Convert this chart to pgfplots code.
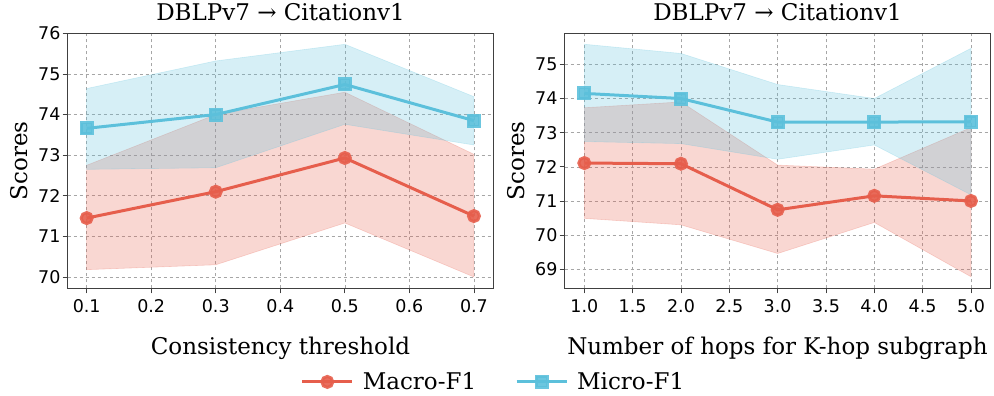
\documentclass[border=0pt]{standalone}
\usepackage{fontspec}
\setmainfont{DejaVu Serif}
\newfontfamily\ticksans{DejaVu Sans}
\usepackage{pgfplots}
\pgfplotsset{compat=1.18}
\definecolor{cred}{RGB}{230,94,76}
\definecolor{cblue}{RGB}{92,192,219}
\newcommand{\ttl}{\fontsize{23}{23}\selectfont DBLPv7 → Citationv1}
\newcommand{\ylab}{\fontsize{23}{23}\selectfont Scores}
\pgfplotsset{myax/.style={
  scale only axis, width=425.6pt, height=255pt,
  grid=major, major grid style={dashed, black!35, line width=0.6pt},
  axis line style={draw=black!75, line width=1pt},
  tick align=outside, major tick length=5pt, tick pos=left,
  tick style={black!75, line width=0.8pt},
  ticklabel style={font=\ticksans\fontsize{17.5}{17.5}\selectfont},
  yticklabel style={inner xsep=2pt},
  xticklabel style={yshift=-3pt},
  /pgf/number format/assume math mode=true,
  title style={at={(axis description cs:0.5,1.06)}, anchor=center},
  ylabel style={at={(axis description cs:-0.113,0.5)}, anchor=center},
  xlabel style={font=\fontsize{23}{23}\selectfont, at={(axis description cs:0.5,-0.234)}, anchor=center},
  linered/.style={cred, line width=3pt, mark=*, mark size=5.5pt, mark options={fill=cred, draw=cred, opacity=0.9}},
  lineblue/.style={cblue, line width=3pt, mark=square*, mark size=5.5pt, mark options={fill=cblue, draw=cblue, opacity=0.9}},
  bandred/.style={fill=cred, fill opacity=0.25, draw=cred, draw opacity=0.25, line width=0.6pt, forget plot},
  bandblue/.style={fill=cblue, fill opacity=0.25, draw=cblue, draw opacity=0.25, line width=0.6pt, forget plot},
}}
\begin{document}
\begin{tikzpicture}
\path (0,0) rectangle (994pt,394pt);
\begin{axis}[myax, at={(67.7pt,106.7pt)}, anchor=south west,
  xmin=0.0706, xmax=0.73, ymin=69.72, ymax=76,
  xtick={0.1,0.2,0.3,0.4,0.5,0.6,0.7},
  xticklabel style={/pgf/number format/.cd, fixed, precision=1},
  ytick={70,71,72,73,74,75,76},
  title={\ttl}, ylabel={\ylab}, xlabel={Consistency threshold},
  legend style={at={(1.0087,-0.367)}, anchor=center, draw=none, fill=none,
    legend columns=2, font=\fontsize{23}{23}\selectfont,
    nodes={inner xsep=9pt},
    /tikz/every even column/.append style={column sep=30pt}},
  legend image code/.code={\draw[mark repeat=2,mark phase=2,#1] plot coordinates {(0pt,0pt) (25pt,0pt) (50pt,0pt)};},
]
\addplot[bandred] coordinates {(0.1,72.75) (0.3,74.0) (0.5,74.55) (0.7,73.02) (0.7,70.0) (0.5,71.33) (0.3,70.30) (0.1,70.18)} -- cycle;
\addplot[bandblue] coordinates {(0.1,74.64) (0.3,75.32) (0.5,75.73) (0.7,74.44) (0.7,73.25) (0.5,73.76) (0.3,72.69) (0.1,72.65)} -- cycle;
\addplot[linered] coordinates {(0.1,71.45) (0.3,72.10) (0.5,72.93) (0.7,71.50)};
\addlegendentry{Macro-F1}
\addplot[lineblue] coordinates {(0.1,73.66) (0.3,74.0) (0.5,74.74) (0.7,73.85)};
\addlegendentry{Micro-F1}
\end{axis}
\begin{axis}[myax, at={(564.7pt,106.7pt)}, anchor=south west,
  xmin=0.797, xmax=5.2, ymin=68.44, ymax=75.91,
  xtick={1,1.5,2,2.5,3,3.5,4,4.5,5},
  xticklabel style={/pgf/number format/.cd, fixed, fixed zerofill, precision=1},
  ytick={69,70,71,72,73,74,75},
  title={\ttl}, ylabel={\ylab}, xlabel={Number of hops for K-hop subgraph},
]
\addplot[bandred] coordinates {(1,73.73) (2,73.90) (3,72.05) (4,71.93) (5,73.15) (5,68.78) (4,70.37) (3,69.46) (2,70.30) (1,70.49)} -- cycle;
\addplot[bandblue] coordinates {(1,75.59) (2,75.32) (3,74.41) (4,74.0) (5,75.47) (5,71.18) (4,72.64) (3,72.22) (2,72.68) (1,72.74)} -- cycle;
\addplot[linered] coordinates {(1,72.11) (2,72.09) (3,70.74) (4,71.15) (5,71.0)};
\addplot[lineblue] coordinates {(1,74.15) (2,74.0) (3,73.31) (4,73.31) (5,73.32)};
\end{axis}
\end{tikzpicture}
\end{document}
